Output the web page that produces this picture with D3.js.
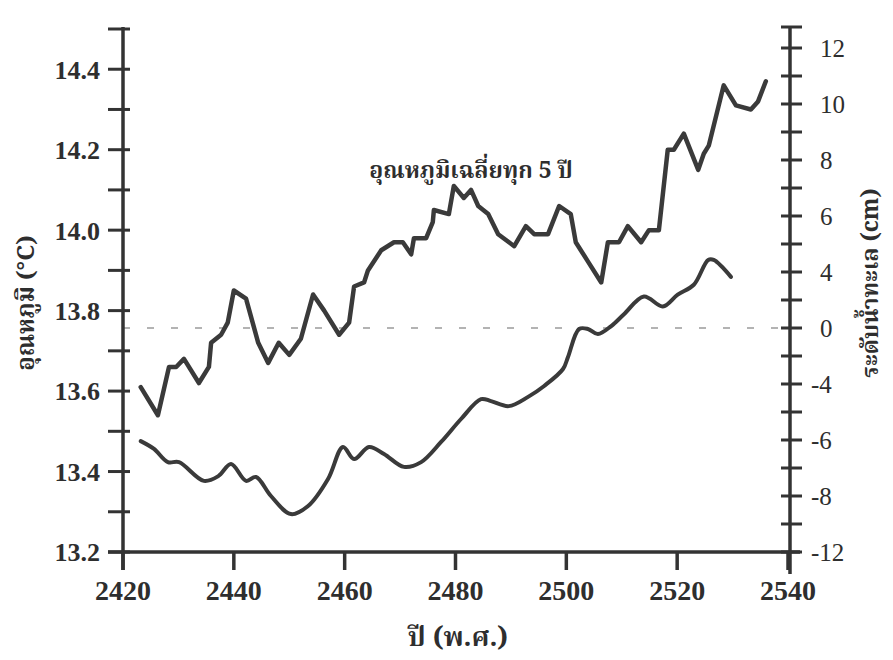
<!DOCTYPE html>
<html>
<meta charset="utf-8">
<script src="https://d3js.org/d3.v7.min.js"></script>
<title>อุณหภูมิและระดับน้ำทะเล</title>
<style>
  body { margin: 0; background: #fff; }
  svg text { fill: #2e2e2e; }
  .num { font-family: "Liberation Serif", "DejaVu Serif", serif; }
  .thai { font-family: "Noto Serif Thai", "Noto Sans Thai", "Garuda", "Loma", "Kinnari", "Norasi", "Tlwg Typo", "DejaVu Sans", sans-serif; }
</style>
<body>
<div id="chart"></div>
<script>
// years (B.E.) and 5-year mean temperature (°C)
var tempYears = [2423.2, 2426.3, 2428.3, 2429.6, 2431.0, 2433.7, 2435.5, 2435.9, 2437.7, 2438.9,
  2440.0, 2442.2, 2444.4, 2446.2, 2448.1, 2450.0, 2452.1, 2454.3, 2456.3, 2459.0,
  2460.8, 2461.7, 2463.5, 2464.2, 2466.6, 2468.9, 2470.5, 2472.0, 2472.5, 2474.7,
  2475.9, 2476.1, 2478.8, 2479.7, 2481.5, 2482.8, 2484.1, 2485.9, 2487.7, 2490.6,
  2492.7, 2494.2, 2496.7, 2498.7, 2500.8, 2501.7, 2504.0, 2506.3, 2507.5, 2509.5,
  2511.1, 2513.5, 2514.9, 2516.7, 2518.3, 2519.4, 2521.2, 2523.8, 2524.8, 2525.7,
  2528.4, 2530.6, 2533.3, 2534.6, 2536.0];
var tempValues = [13.61, 13.54, 13.66, 13.66, 13.68, 13.62, 13.66, 13.72, 13.74, 13.77,
  13.85, 13.83, 13.72, 13.67, 13.72, 13.69, 13.73, 13.84, 13.80, 13.74,
  13.77, 13.86, 13.87, 13.90, 13.95, 13.97, 13.97, 13.94, 13.98, 13.98,
  14.02, 14.05, 14.04, 14.11, 14.08, 14.10, 14.06, 14.04, 13.99, 13.96,
  14.01, 13.99, 13.99, 14.06, 14.04, 13.97, 13.92, 13.87, 13.97, 13.97,
  14.01, 13.97, 14.00, 14.00, 14.20, 14.20, 14.24, 14.15, 14.19, 14.21,
  14.36, 14.31, 14.30, 14.32, 14.37];

// sea level (cm, as printed on the right axis)
var seaYears = [2423.2, 2425.6, 2428.1, 2430.1, 2434.6, 2437.2, 2439.5, 2442.2, 2444.0, 2446.7,
  2450.3, 2453.4, 2457.0, 2459.7, 2461.7, 2464.4, 2467.1, 2470.7, 2473.8, 2477.4,
  2481.0, 2484.6, 2486.4, 2489.6, 2493.1, 2496.0, 2499.4, 2500.3, 2502.3, 2503.9,
  2505.7, 2508.1, 2510.4, 2514.0, 2517.4, 2520.1, 2523.0, 2525.6, 2526.6, 2529.7];
var seaValues = [-6.04, -6.32, -6.79, -6.79, -7.46, -7.29, -6.86, -7.46, -7.32, -8.0,
  -9.29, -8.71, -7.39, -6.25, -6.68, -6.25, -6.5, -6.96, -6.79, -6.07,
  -5.25, -4.54, -4.61, -4.79, -4.46, -4.07, -2.93, -2.07, -0.07, -0.07,
  -0.43, 0.14, 0.98, 2.25, 1.54, 2.39, 3.09, 4.43, 4.43, 3.65];

var xTicks = [2420, 2440, 2460, 2480, 2500, 2520, 2540];
var leftTicks = [13.2, 13.4, 13.6, 13.8, 14.0, 14.2, 14.4];
var leftMinor = [13.3, 13.5, 13.7, 13.9, 14.1, 14.3, 14.5];
// right axis labels exactly as printed (evenly spaced)
var rightTicks = [-12, -8, -6, -4, 0, 4, 6, 8, 10, 12];

var W = 893, H = 660;
var m = {left: 123, right: 788, top: 29, bottom: 552};

var svg = d3.select("#chart").append("svg")
    .attr("width", W)
    .attr("height", H);

var x = d3.scaleLinear().domain([2420, 2540]).range([m.left, m.right]);
var yL = d3.scaleLinear().domain([13.2, 14.5]).range([m.bottom, m.top]);
// polylinear scale: printed labels are evenly spaced
var step = (m.bottom - 48) / (rightTicks.length - 1);
var yR = d3.scaleLinear().domain(rightTicks)
    .range(rightTicks.map(function(d, i) { return m.bottom - i * step; }));

var ink = "#333";

// dashed reference line at sea level 0
svg.append("line")
    .attr("x1", m.left).attr("x2", m.right)
    .attr("y1", yR(0)).attr("y2", yR(0))
    .style("stroke", "#9a9a9a")
    .style("stroke-width", 1.6)
    .style("stroke-dasharray", "7 17");

// x axis
svg.append("line")
    .attr("x1", m.left - 15).attr("x2", m.right + 12)
    .attr("y1", m.bottom).attr("y2", m.bottom)
    .style("stroke", ink).style("stroke-width", 3.5);
svg.selectAll(".xtick").data(xTicks).enter().append("line")
    .attr("x1", function(d) { return x(d); })
    .attr("x2", function(d) { return x(d); })
    .attr("y1", m.bottom).attr("y2", m.bottom + 18)
    .style("stroke", ink).style("stroke-width", 3.5);
svg.selectAll(".xlab").data(xTicks).enter().append("text")
    .attr("class", "num")
    .attr("x", function(d) { return x(d); })
    .attr("y", m.bottom + 48)
    .attr("text-anchor", "middle")
    .style("font-size", "28px")
    .style("font-weight", "bold")
    .text(function(d) { return d; });

// left axis
svg.append("line")
    .attr("x1", m.left).attr("x2", m.left)
    .attr("y1", m.top - 2).attr("y2", m.bottom + 18)
    .style("stroke", ink).style("stroke-width", 3.5);
svg.selectAll(".ltick").data(leftTicks.concat(leftMinor)).enter().append("line")
    .attr("x1", m.left - 15).attr("x2", m.left + 7)
    .attr("y1", function(d) { return yL(d); })
    .attr("y2", function(d) { return yL(d); })
    .style("stroke", ink).style("stroke-width", 3);
svg.selectAll(".llab").data(leftTicks).enter().append("text")
    .attr("class", "num")
    .attr("x", m.left - 23)
    .attr("y", function(d) { return yL(d); })
    .attr("dy", "0.36em")
    .attr("text-anchor", "end")
    .style("font-size", "26px")
    .style("font-weight", "bold")
    .text(function(d) { return d.toFixed(1); });

// right axis
var rightMinorY = d3.range(rightTicks.length - 1).map(function(i) {
  return (yR(rightTicks[i]) + yR(rightTicks[i + 1])) / 2;
}).concat([m.top - 2]);
svg.append("line")
    .attr("x1", m.right + 2).attr("x2", m.right + 2)
    .attr("y1", m.top - 2).attr("y2", m.bottom + 22)
    .style("stroke", ink).style("stroke-width", 3.5);
svg.selectAll(".rtick").data(rightTicks.map(function(d) { return yR(d); }).concat(rightMinorY))
  .enter().append("line")
    .attr("x1", m.right - 7).attr("x2", m.right + 14)
    .attr("y1", function(d) { return d; })
    .attr("y2", function(d) { return d; })
    .style("stroke", ink).style("stroke-width", 3);
svg.selectAll(".rlab").data(rightTicks).enter().append("text")
    .attr("class", "num")
    .attr("x", function(d) { return d < 0 ? m.right + 23 : m.right + 32; })
    .attr("y", function(d) { return yR(d); })
    .attr("dy", "0.35em")
    .style("font-size", "25px")
    .text(function(d) { return d < 0 ? "-" + Math.abs(d) : d; });

// temperature line (jagged)
var tempData = tempYears.map(function(d, i) { return [d, tempValues[i]]; });
svg.append("path")
    .datum(tempData)
    .attr("d", d3.line()
        .x(function(d) { return x(d[0]); })
        .y(function(d) { return yL(d[1]); }))
    .style("fill", "none")
    .style("stroke", "#3a3a3a")
    .style("stroke-width", 4.5)
    .style("stroke-linejoin", "round")
    .style("stroke-linecap", "round");

// sea level line (smooth)
var seaData = seaYears.map(function(d, i) { return [d, seaValues[i]]; });
svg.append("path")
    .datum(seaData)
    .attr("d", d3.line()
        .curve(d3.curveCatmullRom)
        .x(function(d) { return x(d[0]); })
        .y(function(d) { return yR(d[1]); }))
    .style("fill", "none")
    .style("stroke", "#3a3a3a")
    .style("stroke-width", 4)
    .style("stroke-linejoin", "round")
    .style("stroke-linecap", "round");

// annotation
svg.append("text")
    .attr("class", "thai")
    .attr("x", 471).attr("y", 178)
    .attr("text-anchor", "middle")
    .style("font-size", "23px")
    .style("font-weight", "bold")
    .text("อุณหภูมิเฉลี่ยทุก 5 ปี");

// axis titles
svg.append("text")
    .attr("class", "thai")
    .attr("x", 458).attr("y", 646)
    .attr("text-anchor", "middle")
    .style("font-size", "27px")
    .style("font-weight", "bold")
    .text("ปี (พ.ศ.)");

svg.append("text")
    .attr("class", "thai")
    .attr("transform", "translate(34,303) rotate(-90)")
    .attr("text-anchor", "middle")
    .style("font-size", "24px")
    .style("font-weight", "bold")
    .text("อุณหภูมิ (°C)");

svg.append("text")
    .attr("class", "thai")
    .attr("transform", "translate(878,283) rotate(-90)")
    .attr("text-anchor", "middle")
    .style("font-size", "23px")
    .style("font-weight", "bold")
    .text("ระดับน้ำทะเล (cm)");
</script>
</body>
</html>
